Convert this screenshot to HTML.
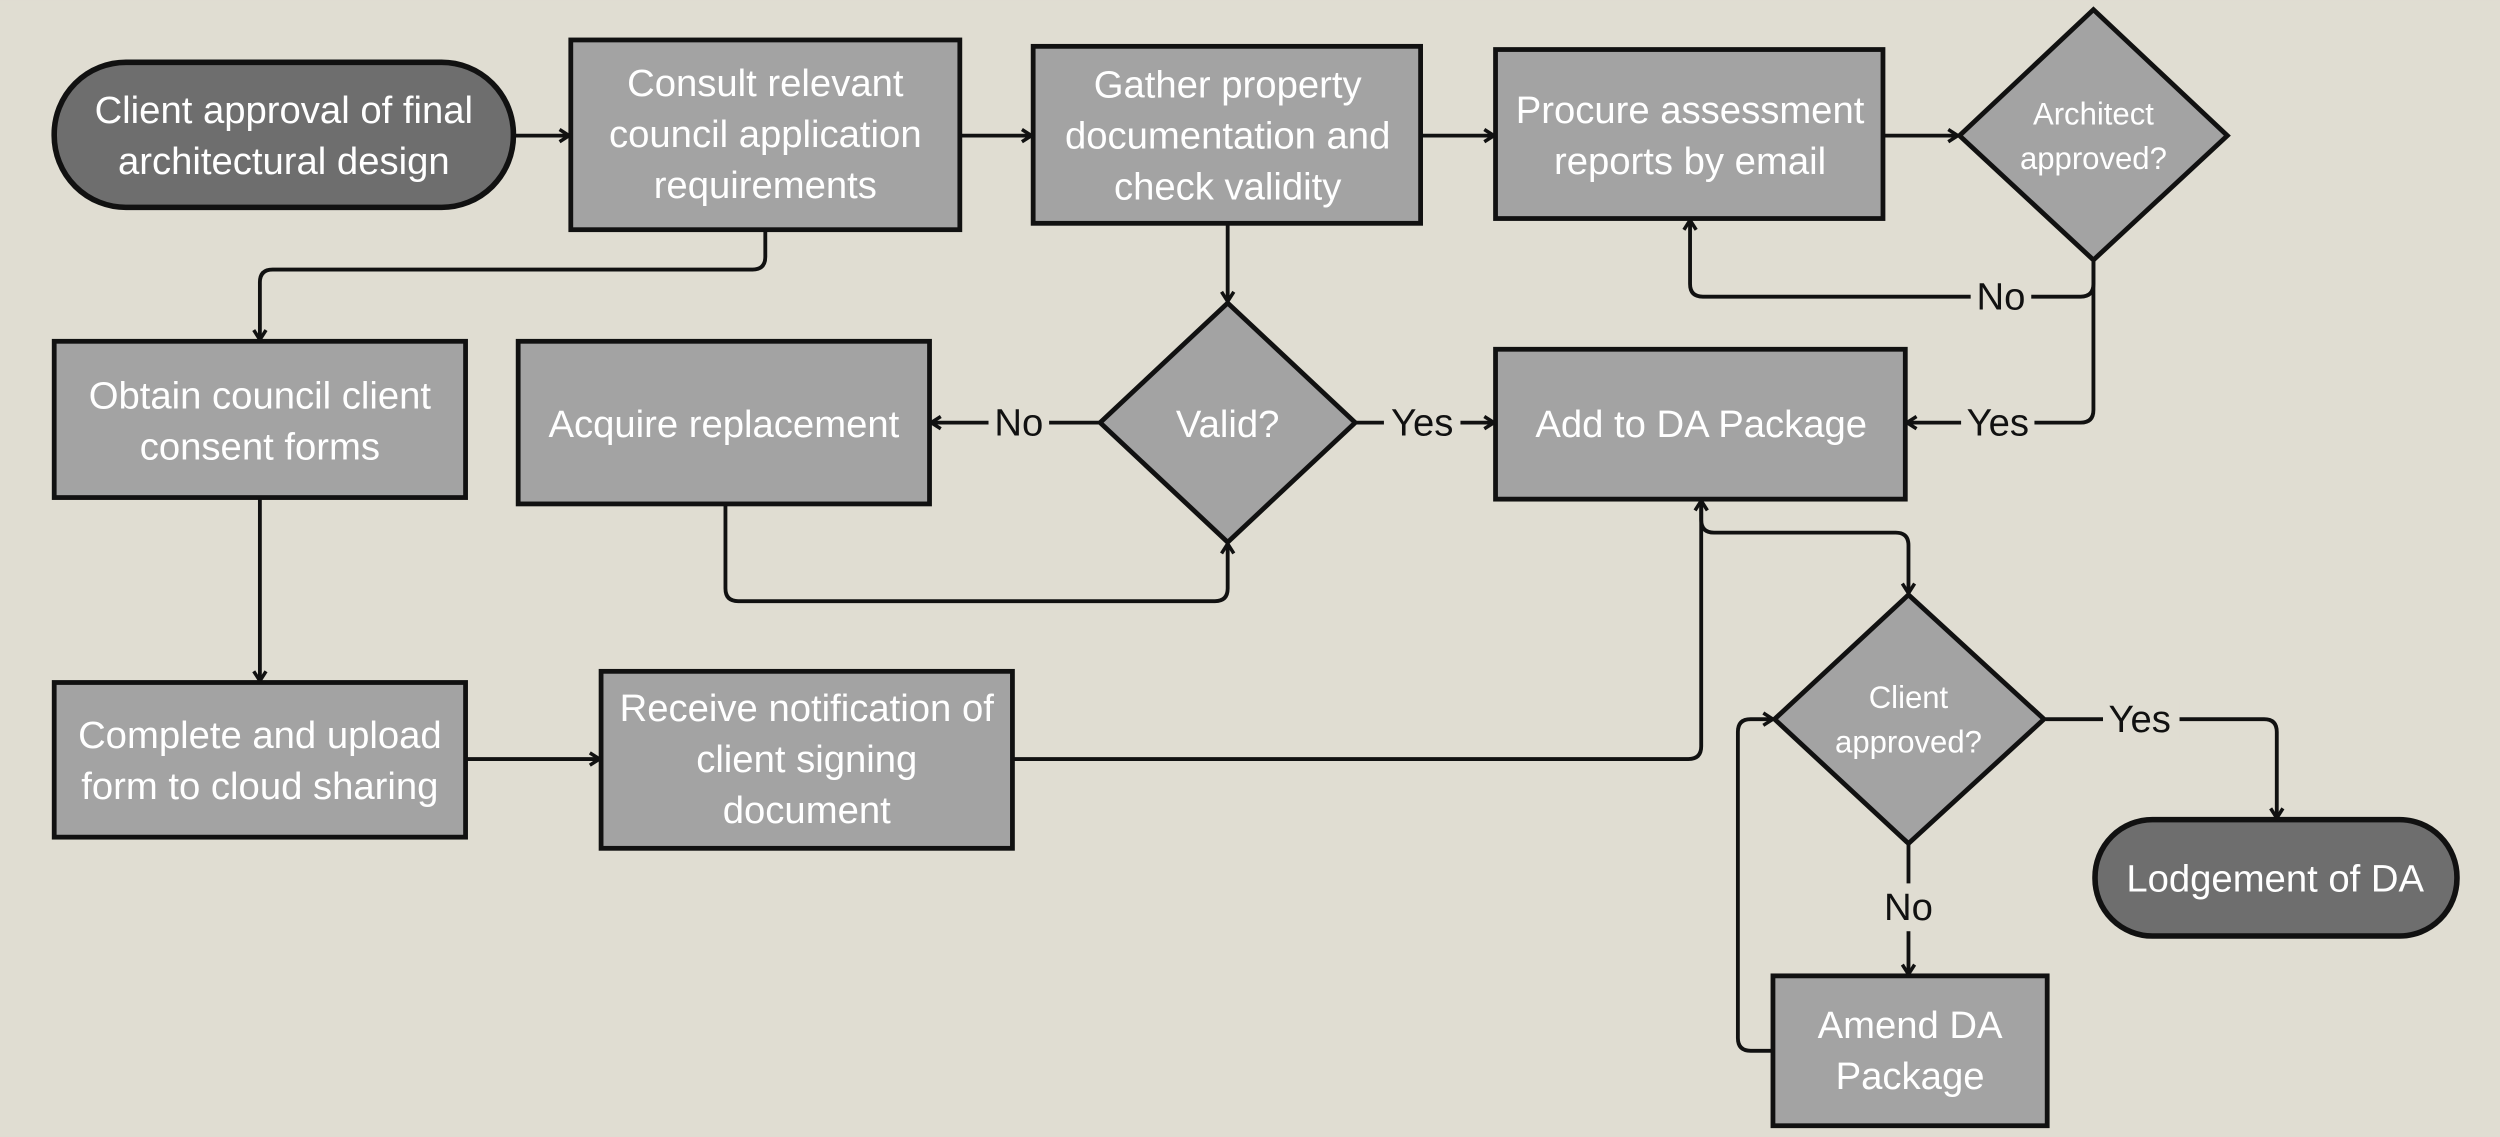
<!DOCTYPE html>
<html><head><meta charset="utf-8"><style>
html,body{margin:0;padding:0;background:#e0ddd2;}
svg{display:block}
text{font-family:"Liberation Sans",sans-serif;}
.w{fill:#fff;font-size:24px;text-anchor:middle}
.ws{fill:#fff;font-size:19.5px;text-anchor:middle}
.l{fill:#111;font-size:24px;text-anchor:middle}
.b{fill:#a3a3a3;stroke:#111;stroke-width:3}
.t{fill:#6e6e6e;stroke:#111;stroke-width:3.5}
.c{fill:none;stroke:#111;stroke-width:2.4;stroke-linejoin:round}
</style></head><body>
<svg width="2500" height="1137" viewBox="0 0 1568 713" xmlns="http://www.w3.org/2000/svg">
<defs><marker id="a" viewBox="0 0 10 10" refX="8.5" refY="5" markerWidth="11" markerHeight="11" orient="auto" markerUnits="userSpaceOnUse"><path d="M3,1.5 L8.5,5 L3,8.5" fill="none" stroke="#111" stroke-width="2"/></marker></defs>
<rect width="1568" height="713" fill="#e0ddd2"/>
<g class="c" marker-end="url(#a)">
<path d="M322,85 H357"/>
<path d="M602,85 H647"/>
<path d="M891,85 H937"/>
<path d="M1181,85 H1228"/>
<path d="M480,144 V161 Q480,169 472,169 H171 Q163,169 163,177 V213"/>
<path d="M770,140 V189"/>
<path d="M1313,163 V178 Q1313,186 1305,186 H1068 Q1060,186 1060,178 V138"/>
<path d="M1313,163 V257 Q1313,265 1305,265 H1196"/>
<path d="M690,265 H584"/>
<path d="M850,265 H937"/>
<path d="M455,316 V369 Q455,377 463,377 H762 Q770,377 770,369 V341"/>
<path d="M163,312 V427"/>
<path d="M292,476 H376"/>
<path d="M635,476 H1059 Q1067,476 1067,468 V314"/>
<path d="M1067,313 V326 Q1067,334 1075,334 H1189 Q1197,334 1197,342 V372"/>
<path d="M1283,451 H1420 Q1428,451 1428,459 V513"/>
<path d="M1197,529 V611"/>
<path d="M1112,659 H1098 Q1090,659 1090,651 V459 Q1090,451 1098,451 H1112"/>
</g>
<g fill="#e0ddd2">
<rect x="1236" y="174" width="38" height="24"/>
<rect x="1230" y="253" width="46" height="24"/>
<rect x="620" y="253" width="38" height="24"/>
<rect x="868" y="253" width="48" height="24"/>
<rect x="1319" y="439" width="48" height="24"/>
<rect x="1179" y="554" width="36" height="30"/>
</g>
<text class="l" x="1255" y="194">No</text>
<text class="l" x="1253" y="273">Yes</text>
<text class="l" x="639" y="273">No</text>
<text class="l" x="892" y="273">Yes</text>
<text class="l" x="1342" y="459">Yes</text>
<text class="l" x="1197" y="577">No</text>
<rect class="t" x="34" y="39" width="288" height="91" rx="45"/>
<text class="w" x="178" y="77">Client approval of final</text>
<text class="w" x="178" y="109">architectural design</text>
<rect class="b" x="358" y="25" width="244" height="119"/>
<text class="w" x="480" y="60">Consult relevant</text>
<text class="w" x="480" y="92">council application</text>
<text class="w" x="480" y="124">requirements</text>
<rect class="b" x="648" y="29" width="243" height="111"/>
<text class="w" x="770" y="61">Gather property</text>
<text class="w" x="770" y="93">documentation and</text>
<text class="w" x="770" y="125">check validity</text>
<rect class="b" x="938" y="31" width="243" height="106"/>
<text class="w" x="1060" y="77">Procure assessment</text>
<text class="w" x="1060" y="109">reports by email</text>
<polygon class="b" points="1313,6 1397,85 1313,163 1229,85"/>
<text class="ws" x="1313" y="78">Architect</text>
<text class="ws" x="1313" y="106">approved?</text>
<rect class="b" x="34" y="214" width="258" height="98"/>
<text class="w" x="163" y="256">Obtain council client</text>
<text class="w" x="163" y="288">consent forms</text>
<rect class="b" x="325" y="214" width="258" height="102"/>
<text class="w" x="454" y="274">Acquire replacement</text>
<polygon class="b" points="770,190 850,265 770,340 690,265"/>
<text class="w" x="770" y="274">Valid?</text>
<rect class="b" x="938" y="219" width="257" height="94"/>
<text class="w" x="1067" y="274">Add to DA Package</text>
<rect class="b" x="34" y="428" width="258" height="97"/>
<text class="w" x="163" y="469">Complete and upload</text>
<text class="w" x="163" y="501">form to cloud sharing</text>
<rect class="b" x="377" y="421" width="258" height="111"/>
<text class="w" x="506" y="452">Receive notification of</text>
<text class="w" x="506" y="484">client signing</text>
<text class="w" x="506" y="516">document</text>
<polygon class="b" points="1197,373 1282,451 1197,529 1113,451"/>
<text class="ws" x="1197" y="444">Client</text>
<text class="ws" x="1197" y="472">approved?</text>
<rect class="t" x="1314" y="514" width="227" height="73" rx="36"/>
<text class="w" x="1427" y="559">Lodgement of DA</text>
<rect class="b" x="1112" y="612" width="172" height="94"/>
<text class="w" x="1198" y="651">Amend DA</text>
<text class="w" x="1198" y="683">Package</text>
</svg>
</body></html>
